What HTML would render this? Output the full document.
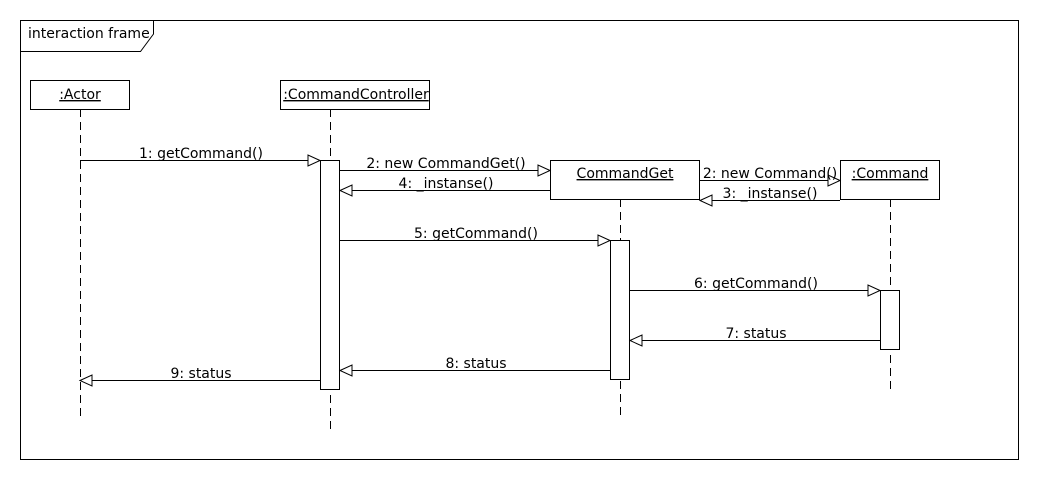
<!DOCTYPE html>
<html><head><meta charset="utf-8"><style>
html,body{margin:0;padding:0;background:#fff;}
svg{display:block;}
text{font-family:"DejaVu Sans","Liberation Sans",sans-serif;font-size:14px;fill:#000;}
</style></head><body>
<svg width="1040" height="480" viewBox="0 0 1040 480" xmlns="http://www.w3.org/2000/svg">
<rect x="0" y="0" width="1040" height="480" fill="#fff"/>
<g stroke="#000" stroke-width="1" fill="none">
<rect x="20.5" y="20.5" width="998" height="439"/>
<polyline points="20.5,51.5 140.5,51.5 153.5,34 153.5,20.5"/>
<g stroke-dasharray="8,5">
<line x1="80.5" y1="109" x2="80.5" y2="416"/>
<line x1="330.5" y1="109" x2="330.5" y2="432"/>
<line x1="620.5" y1="199" x2="620.5" y2="420"/>
<line x1="890.5" y1="199" x2="890.5" y2="392"/>
</g>
<g fill="#fff">
<rect x="30.5" y="80.5" width="99" height="29"/>
<rect x="280.5" y="80.5" width="149" height="29"/>
<rect x="550.5" y="160.5" width="149" height="39"/>
<rect x="840.5" y="160.5" width="99" height="39"/>
<rect x="320.5" y="160.5" width="19" height="229"/>
<rect x="610.5" y="240.5" width="19" height="139"/>
<rect x="880.5" y="290.5" width="19" height="59"/>
</g>
<line x1="80" y1="160.5" x2="320" y2="160.5"/>
<line x1="340" y1="170.5" x2="550" y2="170.5"/>
<line x1="550" y1="190.5" x2="340" y2="190.5"/>
<line x1="700" y1="180.5" x2="840" y2="180.5"/>
<line x1="840" y1="200.5" x2="700" y2="200.5"/>
<line x1="340" y1="240.5" x2="610" y2="240.5"/>
<line x1="630" y1="290.5" x2="880" y2="290.5"/>
<line x1="880" y1="340.5" x2="630" y2="340.5"/>
<line x1="610" y1="370.5" x2="340" y2="370.5"/>
<line x1="320" y1="380.5" x2="80" y2="380.5"/>
<g fill="#fff">
<polygon points="320,160.5 308,155 308,166"/>
<polygon points="550,170.5 538,165 538,176"/>
<polygon points="340,190.5 352,185 352,196"/>
<polygon points="840,180.5 828,175 828,186"/>
<polygon points="700,200.5 712,195 712,206"/>
<polygon points="610,240.5 598,235 598,246"/>
<polygon points="880,290.5 868,285 868,296"/>
<polygon points="630,340.5 642,335 642,346"/>
<polygon points="340,370.5 352,365 352,376"/>
<polygon points="80,380.5 92,375 92,386"/>
</g>
</g>
<text x="28" y="38">interaction frame</text>
<text x="80" y="99" text-anchor="middle" text-decoration="underline">:Actor</text>
<text x="356" y="99" text-anchor="middle" text-decoration="underline">:CommandController</text>
<text x="625" y="178" text-anchor="middle" text-decoration="underline">CommandGet</text>
<text x="890" y="178" text-anchor="middle" text-decoration="underline">:Command</text>
<text x="201" y="158" text-anchor="middle">1: getCommand()</text>
<text x="446" y="168" text-anchor="middle">2: new CommandGet()</text>
<text x="446" y="188" text-anchor="middle">4:  _instanse()</text>
<text x="770" y="178" text-anchor="middle">2: new Command()</text>
<text x="770" y="198" text-anchor="middle">3:  _instanse()</text>
<text x="476" y="238" text-anchor="middle">5: getCommand()</text>
<text x="756" y="288" text-anchor="middle">6: getCommand()</text>
<text x="756" y="338" text-anchor="middle">7: status</text>
<text x="476" y="368" text-anchor="middle">8: status</text>
<text x="201" y="378" text-anchor="middle">9: status</text>
</svg>
</body></html>
